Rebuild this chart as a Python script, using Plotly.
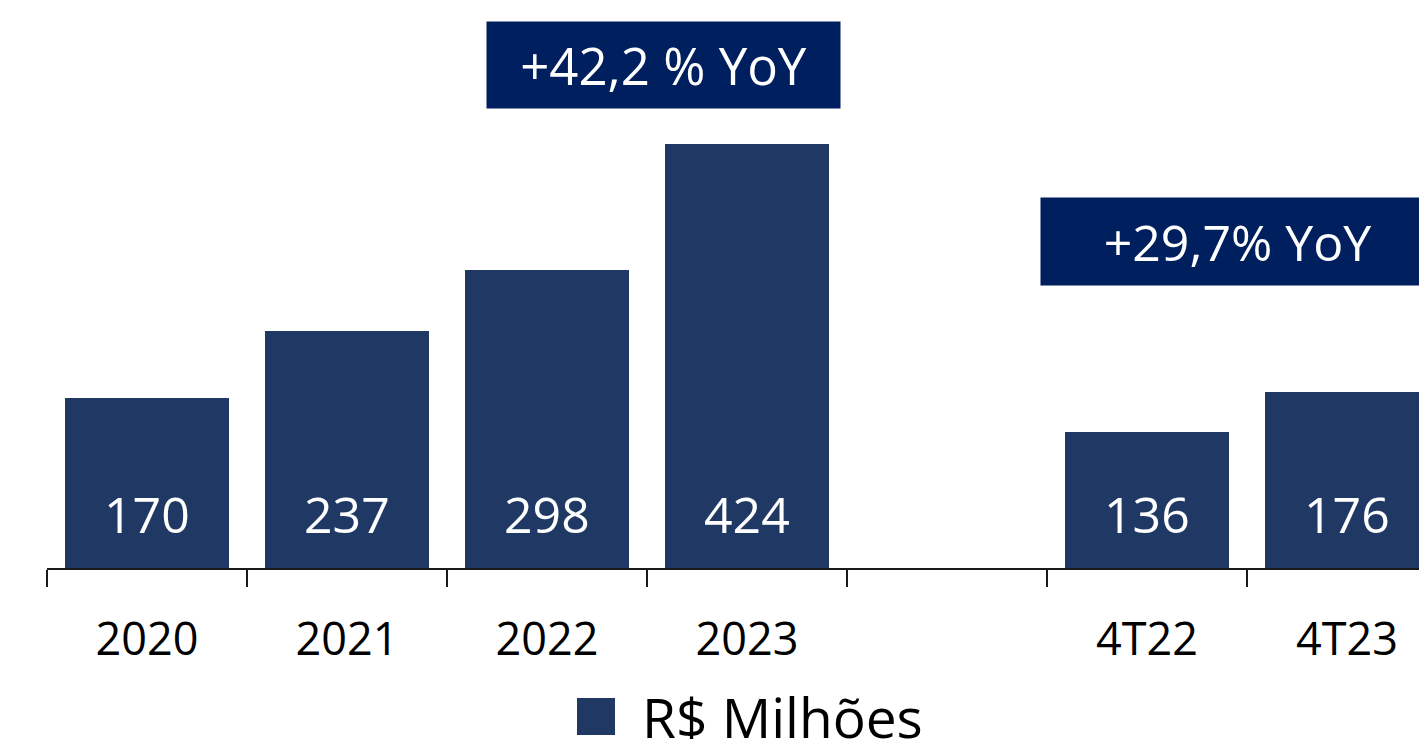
import plotly.graph_objects as go

categories = ["2020", "2021", "2022", "2023", " ", "4T22", "4T23"]
values = [170, 237, 298, 424, None, 136, 176]
value_labels = ["170", "237", "298", "424", "", "136", "176"]
growth_labels = ["+42,2 % YoY", "+29,7% YoY"]
legend_label = "R$ Milhões"

BAR = "#203864"
BOX = "#001f5f"
FONT = "Open Sans"

fig = go.Figure()
fig.add_trace(go.Bar(
    x=categories, y=values, width=0.82,
    marker=dict(color=BAR, line=dict(width=0)),
    showlegend=False, hoverinfo="skip",
))

# value labels near bar base (x given as category index)
for i, (v, t) in enumerate(zip(values, value_labels)):
    if v is None:
        continue
    fig.add_annotation(x=i, y=54, xref="x", yref="y", text=t, showarrow=False,
                       font=dict(family=FONT, size=50, color="white"),
                       xanchor="center", yanchor="middle")

# growth boxes
fig.add_annotation(x=0.4493, y=0.8856, xref="paper", yref="paper", text=growth_labels[0],
                   showarrow=False, bgcolor=BOX, width=353, height=86, borderpad=0,
                   font=dict(family=FONT, size=51, color="white"),
                   xanchor="center", yanchor="middle", align="center")
fig.add_annotation(x=0.8677, y=0.5748, xref="paper", yref="paper", text=growth_labels[1],
                   showarrow=False, bgcolor=BOX, width=393, height=87, borderpad=0,
                   font=dict(family=FONT, size=50, color="white"),
                   xanchor="center", yanchor="middle", align="center")

# manual legend
fig.add_shape(type="rect", xref="paper", yref="paper",
              x0=0.3863, x1=0.414, y0=-0.294, y1=-0.2289,
              fillcolor=BAR, line=dict(width=0))
fig.add_annotation(x=0.4322, y=-0.2623, xref="paper", yref="paper", text=legend_label,
                   showarrow=False, font=dict(family=FONT, size=55, color="black"),
                   xanchor="left", yanchor="middle")

fig.update_layout(
    width=1419, height=739,
    margin=dict(l=47, r=0, t=0, b=171),
    plot_bgcolor="white", paper_bgcolor="white",
    bargap=0.18,
    xaxis=dict(type="category", range=[-0.5, 6.36], showline=True, linecolor="#1a1a1a",
               linewidth=2, ticks="outside", tickson="boundaries", ticklen=17,
               tickwidth=2, tickcolor="#1a1a1a", showgrid=False,
               tickfont=dict(family=FONT, size=45, color="black"),
               ticklabelstandoff=31),
    yaxis=dict(range=[0, 568], visible=False, showgrid=False, zeroline=False),
)

fig.write_html("out.html")
